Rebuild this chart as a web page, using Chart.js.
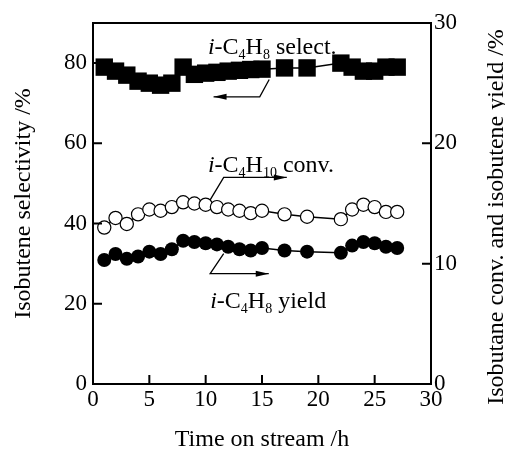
<!DOCTYPE html>
<html><head><meta charset="utf-8">
<script src="https://cdn.jsdelivr.net/npm/chart.js@4/dist/chart.umd.min.js"></script>
<style>html,body{margin:0;padding:0;background:#fff}#wrap{width:505px;height:456px}</style>
</head><body><div id="wrap"><canvas id="c" width="505" height="456"></canvas></div>
<script>
// ---- data ----
const timeH       = [1,2,3,4,5,6,7,8,9,10,11,12,13,14,15,17,19,22,23,24,25,26,27];
const selectivity = [79,78,77,75.5,75,74.5,75,79,77.2,77.5,77.7,78,78.2,78.4,78.5,78.8,78.8,80,79,78,78,79,79];
const conversion  = [13.0,13.8,13.3,14.1,14.5,14.4,14.7,15.1,15.0,14.9,14.7,14.5,14.4,14.2,14.4,14.1,13.9,13.7,14.5,14.9,14.7,14.3,14.3];
const yieldPct    = [10.3,10.8,10.4,10.6,11.0,10.8,11.2,11.9,11.8,11.7,11.6,11.4,11.2,11.1,11.3,11.1,11.0,10.9,11.5,11.8,11.7,11.4,11.3];
const xTicks     = [0,5,10,15,20,25,30];
const leftTicks  = [0,20,40,60,80];
const rightTicks = [0,10,20,30];
const xTitle = 'Time on stream /h';
const leftTitle = 'Isobutene selectivity /%';
const rightTitle = 'Isobutane conv. and isobutene yield /%';

const SERIF = "'Liberation Serif','Times New Roman',serif";
const toXY = (ys) => timeH.map((x, i) => ({x, y: ys[i]}));

// annotation layout (in axis units of x and left y)
const labels = [
  {x: 10.2, y: 82.2, parts: [['i','i'],['-C'],['4','s'],['H'],['8','s'],[' select.']]},
  {x: 10.2, y: 52.9, parts: [['i','i'],['-C'],['4','s'],['H'],['10','s'],[' conv.']]},
  {x: 10.4, y: 18.9, parts: [['i','i'],['-C'],['4','s'],['H'],['8','s'],[' yield']]}
];
const arrows = [
  [[15.64,75.9],[14.8,71.6],[10.7,71.6]],
  [[10.4,45.9],[11.6,51.5],[17.2,51.5]],
  [[11.6,32.5],[10.4,27.5],[15.6,27.5]]
];

const decor = {
  id: 'decor',
  afterDatasetsDraw(chart) {
    const {ctx, chartArea: a, scales: {x, y, y2}} = chart;
    ctx.save();
    ctx.strokeStyle = '#000'; ctx.fillStyle = '#000';
    // frame
    ctx.lineWidth = 2;
    ctx.strokeRect(a.left, a.top, a.right - a.left, a.bottom - a.top);
    // inward ticks
    const TL = 9;
    ctx.beginPath();
    xTicks.slice(1, -1).forEach(v => { const p = x.getPixelForValue(v); ctx.moveTo(p, a.bottom); ctx.lineTo(p, a.bottom - TL); });
    leftTicks.slice(1).forEach(v => { const p = y.getPixelForValue(v); ctx.moveTo(a.left, p); ctx.lineTo(a.left + TL, p); });
    rightTicks.slice(1, -1).forEach(v => { const p = y2.getPixelForValue(v); ctx.moveTo(a.right, p); ctx.lineTo(a.right - TL, p); });
    ctx.stroke();
    // arrows
    ctx.lineWidth = 1.3;
    arrows.forEach(pts => {
      const P = pts.map(([u, v]) => [x.getPixelForValue(u), y.getPixelForValue(v)]);
      ctx.beginPath();
      ctx.moveTo(P[0][0], P[0][1]);
      for (let i = 1; i < P.length; i++) ctx.lineTo(P[i][0], P[i][1]);
      ctx.stroke();
      const [ex, ey] = P[P.length - 1], [px, py] = P[P.length - 2];
      const ang = Math.atan2(ey - py, ex - px);
      ctx.beginPath();
      ctx.moveTo(ex, ey);
      ctx.lineTo(ex - 13 * Math.cos(ang) + 3 * Math.sin(ang), ey - 13 * Math.sin(ang) - 3 * Math.cos(ang));
      ctx.lineTo(ex - 13 * Math.cos(ang) - 3 * Math.sin(ang), ey - 13 * Math.sin(ang) + 3 * Math.cos(ang));
      ctx.closePath(); ctx.fill();
    });
    // labels
    ctx.textBaseline = 'alphabetic'; ctx.textAlign = 'left';
    labels.forEach(l => {
      let px = x.getPixelForValue(l.x); const py = y.getPixelForValue(l.y);
      l.parts.forEach(([t, k]) => {
        if (k === 's') { ctx.font = `14px ${SERIF}`; ctx.fillText(t, px, py + 5); }
        else { ctx.font = (k === 'i' ? 'italic ' : '') + `24px ${SERIF}`; ctx.fillText(t, px, py); }
        px += ctx.measureText(t).width;
      });
    });
    // right title (reads bottom to top)
    ctx.font = `24px ${SERIF}`;
    ctx.textAlign = 'center'; ctx.textBaseline = 'middle';
    ctx.translate(497, 217); ctx.rotate(-Math.PI / 2);
    ctx.fillText(rightTitle, 0, 0);
    ctx.restore();
  }
};

const gridOff = {display: false, drawTicks: false, tickLength: 0};

new Chart(document.getElementById('c'), {
  type: 'line',
  data: {
    datasets: [
      {label: 'i-C4H8 select.', data: toXY(selectivity), yAxisID: 'y', borderColor: '#000', borderWidth: 1.5,
       pointStyle: 'rect', pointRadius: 12.3, pointBackgroundColor: '#000', pointBorderColor: '#000', pointBorderWidth: 0},
      {label: 'i-C4H10 conv.', data: toXY(conversion), yAxisID: 'y2', borderColor: '#000', borderWidth: 1.5,
       pointStyle: 'circle', pointRadius: 6.6, pointBackgroundColor: '#fff', pointBorderColor: '#000', pointBorderWidth: 1.2},
      {label: 'i-C4H8 yield', data: toXY(yieldPct), yAxisID: 'y2', borderColor: '#000', borderWidth: 1.5,
       pointStyle: 'circle', pointRadius: 7, pointBackgroundColor: '#000', pointBorderColor: '#000', pointBorderWidth: 0}
    ]
  },
  options: {
    responsive: false, animation: false,
    layout: {padding: {top: 23, left: 0, right: 0, bottom: 0}},
    plugins: {legend: {display: false}, tooltip: {enabled: false}},
    scales: {
      x: {
        type: 'linear', min: 0, max: 30,
        afterBuildTicks: s => { s.ticks = xTicks.map(v => ({value: v})); },
        afterFit: s => { s.height = 72; },
        grid: gridOff, border: {display: false},
        ticks: {color: '#000', font: {family: SERIF, size: 23}, padding: 2, maxRotation: 0, autoSkip: false},
        title: {display: true, text: xTitle, color: '#000', font: {family: SERIF, size: 24, lineHeight: 1}, padding: {top: 0, bottom: 4}}
      },
      y: {
        position: 'left', min: 0, max: 90,
        afterBuildTicks: s => { s.ticks = leftTicks.map(v => ({value: v})); },
        afterFit: s => { s.width = 93; },
        grid: gridOff, border: {display: false},
        ticks: {color: '#000', font: {family: SERIF, size: 23}, padding: 6},
        title: {display: true, text: leftTitle, color: '#000', font: {family: SERIF, size: 24, lineHeight: 1}, padding: {top: 12, bottom: 0}}
      },
      y2: {
        position: 'right', min: 0, max: 30,
        afterBuildTicks: s => { s.ticks = rightTicks.map(v => ({value: v})); },
        afterFit: s => { s.width = 74; },
        grid: gridOff, border: {display: false},
        ticks: {color: '#000', font: {family: SERIF, size: 23}, padding: 3}
      }
    }
  },
  plugins: [decor]
});
</script>
</body></html>
